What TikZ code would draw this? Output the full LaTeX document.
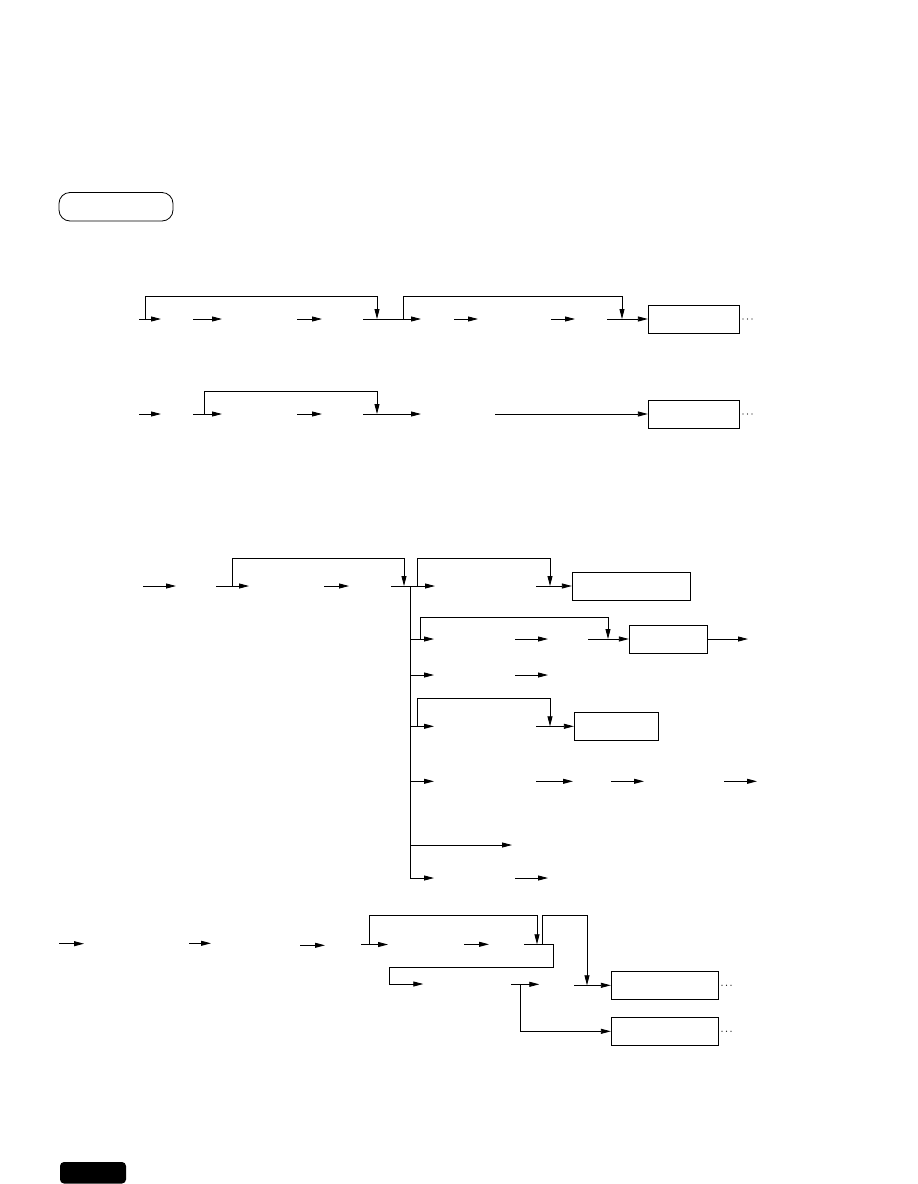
\documentclass[tikz,border=0pt]{standalone}
\usetikzlibrary{arrows.meta}
\begin{document}
\begin{tikzpicture}[x=1pt,y=-1pt,
  ln/.style={line width=0.85pt,black},
  ar/.style={ln,-{Triangle[length=10pt,width=5pt]}},
  box/.style={draw,line width=0.85pt,inner sep=0pt,minimum height=28pt},
  dt/.style={fill=black,circle,inner sep=0pt,minimum size=1.2pt}]
\useasboundingbox (0,0) rectangle (918,1184);
% header tag
\draw[line width=0.8pt,rounded corners=11pt] (59,192.5) rectangle (173,221);
% boxes
\node[box,minimum width=91pt] (b1) at (693.8,319) {};
\node[box,minimum width=91pt] (b2) at (693.8,414) {};
\node[box,minimum width=118.4pt] (b3) at (631.5,586) {};
\node[box,minimum width=78pt] (b4) at (668.3,639) {};
\node[box,minimum width=84pt] (b5) at (616.3,726.3) {};
\node[box,minimum width=107pt] (b6) at (664.8,985.3) {};
\node[box,minimum width=107pt] (b7) at (664.8,1031.3) {};
% dots
\foreach \y in {319,414}{\foreach \x in {743,747.5,752}{\node[dt] at (\x,\y) {};}}
\foreach \y in {985.3,1031.3}{\foreach \x in {722,726.5,731}{\node[dt] at (\x,\y) {};}}
% ---------- row 1
\draw[ar] (139,319) -- (161,319);
\draw[ar] (145,319) |- (377,296) -- (377,319);
\draw[ar] (193,319) -- (222,319);
\draw[ar] (297,319) -- (322,319);
\draw[ar] (363,319) -- (421,319);
\draw[ar] (403,319) |- (622,296.5) -- (622,319);
\draw[ar] (454,319) -- (478,319);
\draw[ar] (551,319) -- (575,319);
\draw[ar] (607,319) -- (b1.west);
% ---------- row 2
\draw[ar] (139,414) -- (161,414);
\draw[ar] (193,414) -- (222,414);
\draw[ar] (204,414) |- (377,391) -- (377,414);
\draw[ar] (297,414) -- (322,414);
\draw[ar] (363,414) -- (421,414);
\draw[ar] (495,414) -- (b2.west);
% ---------- section 3
\draw[ar] (143,586) -- (176,586);
\draw[ar] (216,586) -- (249,586);
\draw[ar] (232,586) |- (404,558.3) -- (404,586);
\draw[ar] (324,586) -- (349,586);
\draw[ar] (391,586) -- (435,586);
\draw[ar] (410,586) |- (434,878);
\draw[ar] (417,586) |- (550,558.3) -- (550,586);
\draw[ar] (536,586) -- (b3.west);
% row 3.2
\draw[ar] (410,639) -- (434,639);
\draw[ar] (420,639) |- (608,617) -- (608,639);
\draw[ar] (515,639) -- (548,639);
\draw[ar] (588,639) -- (b4.west);
\draw[ar] (b4.east) -- (748,639);
% row 3.3
\draw[ar] (410,675) -- (434,675);
\draw[ar] (515,675) -- (548,675);
% row 3.4
\draw[ar] (410,726.3) -- (434,726.3);
\draw[ar] (417,726.3) |- (550,698.3) -- (550,726.3);
\draw[ar] (536,726.3) -- (b5.west);
% row 3.5
\draw[ar] (410,781.3) -- (434,781.3);
\draw[ar] (536,781.3) -- (573,781.3);
\draw[ar] (611,781.3) -- (644,781.3);
\draw[ar] (724,781.3) -- (757,781.3);
% row 3.6
\draw[ar] (410,845) -- (512,845);
% row 3.7
\draw[ar] (515,878) -- (548,878);
% ---------- section 4
\draw[ar] (59,943.7) -- (84,943.7);
\draw[ar] (189,943.3) -- (211,943.3);
\draw[ar] (300,945.3) -- (325,945.3);
\draw[ar] (361,944.5) -- (388,944.5);
\draw[ar] (369,944.5) |- (537,915.7) -- (537,944.3);
\draw[ar] (464,944.3) -- (489,944.3);
\draw[ar] (524,944.3) -- (553.3,944.3) -- (553.3,967.3) -- (389,967.3) -- (389,984) -- (423.3,984);
\draw[ar] (542.7,944.3) |- (587,915.7) -- (587,985.3);
\draw[ar] (511,984.3) -- (539.3,984.3);
\draw[ar] (520.7,984.3) |- (b7.west);
\draw[ar] (574,985.3) -- (b6.west);
% footer tab
\fill[rounded corners=4pt] (60,1162) rectangle (126,1183.5);
\end{tikzpicture}
\end{document}
